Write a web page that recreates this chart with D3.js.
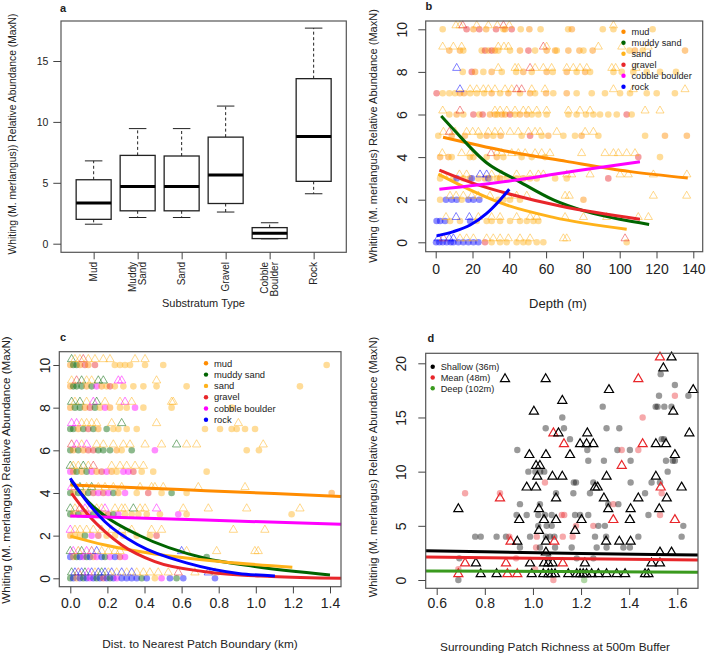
<!DOCTYPE html>
<html>
<head>
<meta charset="utf-8">
<script src="https://cdn.jsdelivr.net/npm/d3@7"></script>
<style>
  body { margin: 0; background: #fff; }
  svg text { font-family: Arial, 'Liberation Sans', Helvetica, sans-serif; fill: #222; }
</style>
</head>
<body>
<svg width="709" height="655"></svg>
<script>
const svg = d3.select('svg')

// ---------- data: panel a (boxplot) ----------
const substrata = ['Mud', 'Muddy Sand', 'Sand', 'Gravel', 'Cobble Boulder', 'Rock']
const boxLow = [1.6, 2.15, 2.15, 2.6, 0.4, 4.1]
const boxQ1 = [2.0, 2.7, 2.7, 3.3, 0.42, 5.12]
const boxMedian = [3.35, 4.7, 4.7, 5.65, 0.85, 8.8]
const boxQ3 = [5.25, 7.25, 7.2, 8.75, 1.32, 13.55]
const boxHigh = [6.8, 9.45, 9.45, 11.3, 1.72, 17.7]
const aTicks = [0, 5, 10, 15]

// ---------- data: shared substrate legend ----------
// category index: 0 mud, 1 muddy sand, 2 sand, 3 gravel, 4 cobble boulder, 5 rock
const substrateLabels = ['mud', 'muddy sand', 'sand', 'gravel', 'cobble boulder', 'rock']
const substrateColors = ['#FF8C00', '#006400', '#FFB21A', '#E8262A', '#FF00FF', '#0000FF']

// ---------- data: panel b (depth) ----------
const depthTicks = [0, 20, 40, 60, 80, 100, 120, 140]
const maxnTicks = [0, 2, 4, 6, 8, 10]
// [depth, MaxN, category]
const depthDots = [
  [3.8,10,2],[16.8,10,3],[20.5,10,0],[23.7,10,3],[27.4,10,0],[32.8,10,3],[36.8,10,2],[37.7,10,0],[41.3,10,3],[46.2,10,2],[50.9,10,0],[57,10,2],[72,10,2],[74,10,0],[90.8,10,2],[96.6,10,2],[117.9,10,2],
  [7.4,9,0],[13.2,9,0],[15,9,2],[25,9,2],[26.8,9,3],[28.6,9,2],[30.4,9,3],[32.2,9,0],[34,9,2],[40.4,9,2],[45.8,9,0],[50.4,9,3],[54,9,2],[60.3,9,0],[64.9,9,0],[65.8,9,2],[72.1,9,0],[78.1,9,0],[80.3,9,2],[85.3,9,0],[105.3,9,2],[108.3,9,0],[112.5,9,2],[135.5,9,0],
  [14.7,8,2],[19.6,8,3],[21.4,8,0],[25.9,8,2],[30.4,8,0],[35.9,8,2],[43.7,8,2],[47.6,8,0],[52.2,8,2],[60.3,8,0],[63.6,8,2],[71.2,8,0],[76.6,8,2],[81.2,8,0],[83.9,8,2],[96.6,8,2],[101.1,8,2],[107.4,8,2],[114.7,8,2],[121.9,8,2],[130.6,8,2],
  [0.5,7,3],[3.8,7,2],[7.4,7,2],[10.5,7,2],[13.2,7,0],[15.4,7,0],[18.7,7,2],[22.3,7,2],[26.3,7,2],[30.4,7,0],[35,7,2],[39.5,7,0],[45.8,7,2],[51.3,7,0],[54,7,2],[60,7,0],[63.9,7,2],[71.2,7,0],[76.6,7,2],[84.8,7,2],[92,7,2],[100.2,7,2],[105.6,7,2],[114.7,7,2],[120.1,7,2],[130,7,2],
  [7.4,6,2],[11.4,6,0],[15,6,2],[20.5,6,3],[23.7,6,2],[25.5,6,3],[29.5,6,0],[32.2,6,0],[33.5,6,2],[35.9,6,0],[37.7,6,0],[40.4,6,3],[43.1,6,2],[45.8,6,0],[49.5,6,0],[52.2,6,2],[55.8,6,2],[60.3,6,2],[72.1,6,2],[76.6,6,2],[81.7,6,2],[85.7,6,2],[89.3,6,2],[93.8,6,2],[98.4,6,2],[103.8,6,3],[106.5,6,2],
  [1.4,5,2],[8.7,5,0],[15.9,5,0],[24.1,5,2],[27.7,5,0],[31.3,5,2],[35.3,5,0],[46.7,5,2],[51.3,5,3],[57.6,5,2],[61.2,5,0],[69.4,5,2],[75.7,5,2],[79.3,5,0],[88.4,5,2],[113.8,5,2],[124.6,5,0],[136.5,5,0],
  [2.4,4,0],[6.9,4,0],[8.7,4,2],[18.6,4,2],[20.5,4,2],[27.7,4,2],[33.2,4,0],[36.8,4,2],[46.7,4,2],[52.2,4,2],[59.4,4,2],[110.1,4,3],[121.9,4,2],
  [2.4,3,2],[9.6,3,2],[11.4,3,5],[15,3,2],[18.7,3,0],[19.6,3,5],[23.2,3,2],[26.8,3,0],[28.6,3,5],[29.5,3,2],[33.2,3,2],[35,3,0],[38.6,3,2],[44,3,2],[47.6,3,0],[51.3,3,2],[54.9,3,2],[64.9,3,2],[71.2,3,2],[93.8,3,3],
  [2.4,2,2],[5.6,2,5],[8.7,2,5],[11.4,2,5],[14.1,2,2],[17.8,2,5],[20.5,2,5],[23.7,2,5],[34,2,2],[36.8,2,2],[40.4,2,2],[45.8,2,2],[80.3,2,0],
  [0.5,1,5],[2.4,1,5],[5.1,1,5],[7.8,1,2],[13.2,1,2],[18.7,1,5],[22.3,1,2],[27.7,1,2],[30.4,1,2],[35,1,2],[40.4,1,2],[45.8,1,2],[49.5,1,2],[53.1,1,2],[55.8,1,2],
  [0.2,0,5],[2,0,5],[3.8,0,5],[6,0,5],[8.2,0,5],[9.6,0,5],[12.3,0,5],[15,0,5],[17.8,0,5],[20.5,0,5],[23.2,0,5],[26.8,0,3],[30.4,0,2],[35,0,2],[38.6,0,2],[44,0,2],[47.6,0,2],[50.4,0,2],[54.9,0,2],[58.5,0,2],[103.8,0,2]
]
const depthTris = [
  [11,10,2],[13.2,10,2],[14.7,10,3],[22.3,10,2],[28.6,10,2],[33.5,10,2],[36.8,10,3],[40,10,2],[96.6,10,2],
  [3.8,9,2],[9.6,9,2],[14.1,9,2],[34,9,2],[37.1,9,2],[39.5,9,2],[58.5,9,3],[60.3,9,2],[88.4,9,2],[101.1,9,2],[115.5,9,2],
  [11.4,8,5],[34,8,2],[43.1,8,2],[44.9,8,2],[51.3,8,3],[54,8,2],[58.5,8,2],[63,8,2],[71.2,8,2],[74.8,8,2],[78.4,8,2],[82.1,8,2],[95.7,8,2],[97.8,8,2],[108.9,8,2],
  [13.2,7,5],[18.7,7,2],[22.3,7,2],[25.9,7,2],[28.6,7,2],[32.2,7,2],[37.7,7,2],[41.3,7,2],[44,7,3],[46.7,7,3],[52.2,7,2],[59.4,7,2],[96.6,7,2],[107.4,7,2],[135.5,7,2],
  [3.8,6,2],[13.2,6,3],[32.2,6,2],[35,6,2],[38.6,6,2],[43.1,6,2],[47.6,6,2],[50.4,6,2],[54.9,6,2],[60.3,6,2],[72.1,6,2],[78.4,6,2],[83.9,6,2],[113.8,6,2],[121.9,6,2],
  [4.2,5,2],[7.4,5,3],[10.5,5,2],[16.8,5,2],[20.1,5,2],[23.2,5,2],[28.6,5,2],[32.2,5,2],[35.3,5,2],[40.4,5,2],[44.9,5,2],[50.4,5,2],[54,5,2],[56.7,5,2],[65.8,5,2],[81.2,5,2],[85.7,5,2],
  [3.6,4,2],[14.1,4,2],[18.7,4,2],[30.1,4,3],[33.2,4,2],[35.9,4,2],[41.3,4,2],[44.9,4,2],[48.6,4,2],[54,4,2],[57.6,4,2],[62.1,4,2],[79.3,4,2],[92,4,2],[96.6,4,2],[99.3,4,2],[103.8,4,2],[108.3,4,2],
  [4.2,3,2],[12.9,3,2],[16.8,3,2],[24.1,3,5],[27.7,3,5],[30.4,3,2],[35.9,3,2],[44,3,2],[51.3,3,2],[55.8,3,2],[58.5,3,2],[71.2,3,2],[73.9,3,2],[83.9,3,2],[100.2,3,2],[104.7,3,2],[118.3,3,2],[136.5,3,2],
  [7.8,2,2],[11.1,2,2],[15,2,2],[19.6,2,2],[23.2,2,2],[29.5,2,2],[39.5,2,2],[44,2,2],[49.5,2,2],[70.3,2,2],[72.6,2,2],[118.3,2,2],[136.4,2,2],
  [5.6,1,2],[11.1,1,5],[18.3,1,5],[23.2,1,2],[30.4,1,2],[35,1,2],[44,1,2],[51.3,1,2],[54.9,1,2],[70.3,1,2],[80.3,1,2],[92.9,1,2],[110.1,1,2],[115.6,1,2],
  [1.4,0,5],[4.2,0,3],[7.4,0,5],[9.6,0,5],[13.2,0,2],[16.8,0,2],[20.5,0,2],[27.7,0,2],[31.3,0,2],[35,0,2],[39.5,0,2],[45.8,0,2],[51.3,0,2],[69.4,0,2],[71.2,0,2],[102.9,0,3]
]
// fitted curves, one per substrate, [depth, MaxN]
const depthFits = [
  [[4,4.93],[37,4.3],[71,3.8],[105,3.33],[137,3.02]],
  [[3,5.93],[10,5.27],[28,3.71],[44,2.92],[64,1.99],[82,1.44],[100,1.08],[116,0.84]],
  [[1.4,3.2],[18.7,2.46],[36.8,1.8],[64,1.17],[103.8,0.61]],
  [[2,3.39],[20.5,2.77],[42.2,2.22],[67.6,1.7],[111,1.08]],
  [[2,2.49],[44,2.92],[76.6,3.36],[111,3.78]],
  [[0.5,0.3],[9.6,0.5],[18.7,0.81],[27.7,1.36],[35,1.99],[40,2.49]]
]

// ---------- data: panel c (distance to boundary) ----------
const distTicks = [0, 0.2, 0.4, 0.6, 0.8, 1.0, 1.2, 1.4]
const distDots = [
  [0,10,0],[0.016,10,1],[0.034,10,1],[0.052,10,0],[0.079,10,3],[0.097,10,0],[0.133,10,3],[0.24,10,2],[0.268,10,2],[0.295,10,2],[0.322,10,2],[0.403,10,2],[0.501,10,2],[1.382,10,2],
  [0,9,0],[0.016,9,1],[0.034,9,1],[0.061,9,1],[0.088,9,0],[0.115,9,1],[0.142,9,4],[0.169,9,0],[0.196,9,2],[0.214,9,3],[0.24,9,2],[0.286,9,2],[0.34,9,2],[0.394,9,2],[0.465,9,2],[0.627,9,2],[1.238,9,2],
  [0,8,0],[0.025,8,1],[0.052,8,1],[0.079,8,0],[0.106,8,3],[0.133,8,1],[0.16,8,2],[0.187,8,4],[0.214,8,0],[0.268,8,2],[0.304,8,2],[0.349,8,4],[0.394,8,2],[0.546,8,2],[0.87,8,2],
  [0,7,1],[0.016,7,1],[0.043,7,0],[0.07,7,1],[0.097,7,3],[0.124,7,1],[0.151,7,0],[0.196,7,1],[0.232,7,2],[0.259,7,2],[0.304,7,2],[0.358,7,2],[0.726,7,2],[0.807,7,2],[0.87,7,2],[0.897,7,2],[0.942,7,2],[0.996,7,2],
  [0,6,1],[0.016,6,0],[0.043,6,1],[0.07,6,0],[0.097,6,3],[0.124,6,3],[0.151,6,1],[0.178,6,1],[0.214,6,1],[0.25,6,0],[0.277,6,2],[0.331,6,1],[0.456,6,4],[0.951,6,2],[1.017,6,2],
  [0,5,4],[0.016,5,0],[0.034,5,1],[0.061,5,0],[0.088,5,1],[0.115,5,4],[0.142,5,0],[0.169,5,3],[0.196,5,4],[0.223,5,0],[0.25,5,2],[0.286,5,4],[0.313,5,4],[0.34,5,3],[0.385,5,2],[0.447,5,2],[0.735,5,2],
  [0,4,1],[0.016,4,0],[0.043,4,1],[0.07,4,0],[0.097,4,1],[0.124,4,3],[0.151,4,4],[0.178,4,3],[0.205,4,4],[0.232,4,1],[0.259,4,0],[0.295,4,4],[0.358,4,2],[0.42,4,3],[0.492,4,2],[0.546,4,1],[0.627,4,2],[1.409,4,0],
  [0,3,1],[0.016,3,0],[0.043,3,1],[0.07,3,0],[0.097,3,4],[0.124,3,1],[0.151,3,0],[0.178,3,2],[0.205,3,3],[0.232,3,1],[0.259,3,4],[0.295,3,2],[0.331,3,2],[0.367,3,2],[0.412,3,2],[0.483,3,2],[0.582,3,4],[0.627,3,2],[1.193,3,2],
  [0,2,0],[0.025,2,2],[0.052,2,2],[0.079,2,1],[0.115,2,4],[0.151,2,3],[0.196,2,2],[0.241,2,2],[0.286,2,2],[0.358,2,2],[0.429,2,2],[0.465,2,3],
  [0,1,5],[0.016,1,0],[0.034,1,1],[0.052,1,5],[0.07,1,4],[0.088,1,1],[0.106,1,5],[0.124,1,0],[0.142,1,4],[0.169,1,5],[0.187,1,1],[0.214,1,4],[0.241,1,5],[0.268,1,3],[0.295,1,4],[0.735,1,1],
  [0,0,1],[0.016,0,5],[0.034,0,0],[0.052,0,5],[0.07,0,1],[0.088,0,5],[0.106,0,4],[0.124,0,5],[0.142,0,1],[0.16,0,5],[0.178,0,3],[0.196,0,5],[0.214,0,1],[0.232,0,5],[0.25,0,4],[0.277,0,5],[0.304,0,5],[0.331,0,5],[0.358,0,5],[0.385,0,1],[0.412,0,5],[0.456,0,2],[0.492,0,4],[0.537,0,5],[0.573,0,1],[0.609,0,5],[0.78,0,5]
]
const distTris = [
  [0.007,10,1],[0.025,10,2],[0.052,10,2],[0.07,10,3],[0.097,10,2],[0.133,10,2],[0.178,10,2],[0.214,10,2],[0.349,10,2],[0.403,10,2],
  [0.007,9,2],[0.034,9,3],[0.061,9,1],[0.088,9,2],[0.115,9,2],[0.151,9,1],[0.178,9,1],[0.259,9,4],[0.277,9,4],[0.465,9,2],
  [0.007,8,1],[0.025,8,2],[0.052,8,1],[0.088,8,2],[0.124,8,4],[0.142,8,1],[0.187,8,2],[0.268,8,2],[0.295,8,4],[0.331,8,2],[0.546,8,2],[0.555,8,2],
  [0.007,7,4],[0.034,7,4],[0.061,7,2],[0.088,7,2],[0.115,7,2],[0.142,7,2],[0.223,7,2],[0.277,7,1],[0.465,7,2],[0.906,7,2],
  [0.007,6,3],[0.034,6,4],[0.061,6,2],[0.088,6,4],[0.142,6,2],[0.178,6,2],[0.232,6,2],[0.286,6,2],[0.322,6,2],[0.403,6,2],[0.492,6,2],[0.573,6,1],[0.627,6,2],[0.681,6,2],[1.04,6,2],
  [0,5,1],[0.016,5,2],[0.043,5,2],[0.07,5,1],[0.097,5,2],[0.124,5,3],[0.223,5,2],[0.268,5,2],[0.304,5,2],[0.349,5,2],[0.394,5,2],
  [0.007,4,4],[0.025,4,2],[0.052,4,1],[0.088,4,2],[0.115,4,1],[0.151,4,2],[0.187,4,2],[0.232,4,2],[0.277,4,2],[0.376,4,2],[0.438,4,2],[0.456,4,2],[0.501,4,2],[0.69,4,2],[0.942,4,2],
  [0,3,1],[0.025,3,2],[0.052,3,3],[0.079,3,4],[0.106,3,2],[0.142,3,2],[0.169,3,2],[0.187,3,4],[0.241,3,2],[0.277,3,2],[0.295,3,2],[0.34,3,1],[0.376,3,2],[0.403,3,2],[0.465,3,4],[0.609,3,2],[0.744,3,2],[0.951,3,2],[1.238,3,2],
  [0,2,4],[0.025,2,2],[0.052,2,2],[0.088,2,2],[0.124,2,2],[0.169,2,2],[0.223,2,2],[0.277,2,2],[0.331,2,2],[0.438,2,2],[0.492,2,2],[0.879,2,2],[1.049,2,2],
  [0,1,1],[0.016,1,4],[0.043,1,0],[0.061,1,1],[0.088,1,4],[0.115,1,3],[0.142,1,5],[0.169,1,2],[0.205,1,2],[0.241,1,2],[0.268,1,2],[0.6,1,5],[0.627,1,2],[0.789,1,2],[0.995,1,2],[1.013,1,2],
  [0.007,0,1],[0.025,0,5],[0.043,0,3],[0.061,0,5],[0.079,0,1],[0.097,0,4],[0.115,0,5],[0.133,0,2],[0.151,0,5],[0.169,0,1],[0.187,0,5],[0.205,0,2],[0.223,0,5],[0.25,0,2],[0.277,0,5],[0.304,0,2],[0.331,0,5],[0.358,0,2],[0.394,0,2],[0.429,0,2],[0.474,0,2],[0.528,0,2],[0.582,0,3],[0.672,0,2],[0.744,0,5],[0.78,0,2]
]
const distFits = [
  [[0,4.37],[0.36,4.25],[0.73,4.11],[1.1,3.97],[1.46,3.83]],
  [[0.004,4.58],[0.097,3.59],[0.187,2.92],[0.367,2.03],[0.726,0.94],[0.995,0.55],[1.4,0.155]],
  [[0,1.98],[0.187,1.56],[0.456,1.14],[0.816,0.78],[1.197,0.52]],
  [[0.007,3.98],[0.097,2.97],[0.187,2.19],[0.277,1.56],[0.456,0.78],[0.726,0.31],[1.085,0.08],[1.46,0]],
  [[0,2.92],[0.726,2.73],[1.46,2.53]],
  [[0,4.69],[0.097,3.52],[0.187,2.65],[0.367,1.56],[0.636,0.7],[0.906,0.23],[1.103,0.11]]
]

// ---------- data: panel d (patch richness) ----------
const richTicks = [0.6, 0.8, 1.0, 1.2, 1.4, 1.6]
const richYTicks = [0, 5, 10, 15, 20]
const depthGroups = ['Shallow (36m)', 'Mean (48m)', 'Deep (102m)']
const depthGroupColors = ['#000000', '#E8262A', '#3A9A1E']
// [richness, MaxN, group]
const richDots = [
  [1.531,19,0],[1.59,18,0],[1.524,17,0],[1.59,17,1],[1.646,17,0],[1.29,16,0],[1.51,16,0],[1.518,16,0],[1.546,16,0],[1.576,16,0],
  [1.456,15,1],[1.122,15,0],[1.053,14,0],[1.129,14,0],[1.306,14,0],[1.359,14,0],[1.154,13,0],[1.535,13,0],[1.545,13,0],
  [0.935,12,0],[1.226,12,0],[1.351,12,0],[1.369,12,1],[1.403,12,0],[1.438,12,1],
  [1.23,11,0],[1.295,11,0],[1.406,11,0],[1.553,11,0],[1.581,11,0],[1.59,11,0],
  [0.981,10,0],[1.01,10,0],[1.03,10,0],[1.047,10,0],[1.56,10,0],
  [1.05,9,1],[1.17,9,0],[1.179,9,0],[1.251,9,0],[1.406,9,0],[1.493,9,0],[1.528,9,0],
  [0.718,8,1],[0.863,8,1],[1.096,8,0],[1.168,8,0],[1.237,8,0],[1.466,8,0],[1.535,8,1],
  [0.946,7,0],[1.029,7,0],[1.313,7,0],[1.334,7,1],[1.355,7,0],
  [0.932,6,0],[0.974,6,0],[1.022,6,0],[1.05,6,0],[1.078,6,0],[1.12,6,1],[1.13,6,1],[1.175,6,0],[1.196,6,0],[1.23,6,0],[1.48,6,0],[1.528,6,1],
  [1.022,5,0],[1.057,5,0],[1.078,5,0],[1.179,5,1],[1.251,5,1],[1.272,5,0],[1.299,5,0],[1.625,5,0],
  [0.76,4,0],[0.783,4,0],[0.849,4,0],[0.888,4,0],[0.902,4,1],[0.988,4,0],[1.016,4,1],[1.054,4,0],[1.071,4,0],[1.089,4,0],[1.124,4,1],[1.165,4,1],[1.258,4,0],[1.304,4,0],[1.438,4,0],[1.618,4,0],
  [0.946,3,0],[1.013,3,1],[1.029,3,0],[1.092,3,0],[1.161,3,0],[1.265,3,0],[1.306,3,0],[1.376,3,0],[1.403,3,0],
  [0.694,2,0],[0.93,2,1],[1.064,2,0],[1.182,2,0],[1.251,2,0],
  [0.69,1,1],[1.009,1,1],
  [0.69,0,0],[1.085,0,1],[1.213,0,2]
]
const richTris = [
  [1.528,20,1],[1.576,20,0],[1.542,19,0],[0.884,18,0],[1.053,18,0],[1.438,18,1],[1.316,17,0],[1.666,17,0],[1.122,16,0],[1.004,15,0],[1.583,15,0],
  [1.085,13,1],[1.106,13,0],[1.226,13,0],[1.65,13,0],[1.129,12,1],[1.196,12,0],[1.223,12,0],[1.251,12,0],[1.456,12,1],[1.511,12,0],[1.553,12,0],
  [0.985,11,0],[1.054,11,0],[1.154,11,0],[1.59,11,0],[1.013,10,0],[1.029,10,0],[1.369,10,1],
  [1.018,9,0],[1.081,9,0],[1.122,9,0],[1.306,9,0],[1.511,9,0],
  [0.974,8,0],[1.013,8,0],[1.258,8,0],[1.269,8,0],[1.531,8,1],[1.618,8,0],
  [0.863,7,1],[1.096,7,0],[1.295,7,0],[1.438,7,0],[1.556,7,0],
  [0.69,6,0],[1.025,6,0],[1.313,6,0],[1.406,6,0],[1.525,6,0],
  [0.943,5,0],[1.046,5,0],[1.096,5,0],[1.202,5,0],[1.334,5,1],[1.403,5,0],[1.59,5,1],
  [1.025,4,0],[1.175,4,0],
  [0.907,3,1],[0.935,3,0],[1.054,3,0],[1.089,3,1],[1.304,3,0],[1.359,3,0],[1.406,3,0],
  [1.054,2,0],[1.528,2,0],[1.576,2,0],
  [0.718,1,1],[0.763,1,0],[0.888,1,1],[0.988,1,0],[1.046,1,0],[1.064,1,0],[1.082,1,0],[1.124,1,1],[1.216,1,0],[1.493,1,0],[1.528,1,0],
  [0.69,0,1],[0.783,0,0],[0.849,0,0],[0.894,0,1],[0.935,0,1],[0.995,0,0],[1.043,0,0],[1.064,0,0],[1.078,0,0],[1.092,0,0],[1.147,0,0],[1.182,0,0],[1.196,0,0],[1.209,0,0],[1.223,0,0],[1.244,0,0],[1.272,0,0],[1.306,0,0],[1.348,0,0],[1.383,0,0],[1.466,0,0],[1.48,0,0]
]
const richFits = [
  [[0.554,2.69],[0.8,2.6],[1.2,2.45],[1.5,2.35],[1.686,2.31]],
  [[0.554,2.12],[0.9,2.03],[1.3,1.93],[1.686,1.85]],
  [[0.554,0.84],[1.1,0.78],[1.686,0.71]]
]

// ---------- helpers ----------
const label = (g, x, y, str, size, opts = {}) => g.append('text')
  .attr('transform', `translate(${x},${y})` + (opts.rotate ? ' rotate(-90)' : ''))
  .attr('text-anchor', opts.anchor || 'middle')
  .attr('dy', opts.dy || null)
  .style('font-size', size + 'px')
  .style('font-weight', opts.bold ? 'bold' : null)
  .text(str)

const frame = (g, [x0, y0, x1, y1]) => g.append('rect')
  .attr('x', x0).attr('y', y0).attr('width', x1 - x0).attr('height', y1 - y0)
  .attr('fill', 'none').attr('stroke', '#555').attr('stroke-width', 1.2)

function xAxis(g, scale, yPos, ticks, fmt, o) {
  const ax = g.append('g').attr('transform', `translate(0,${yPos})`)
    .call(d3.axisBottom(scale).tickValues(ticks).tickFormat(fmt).tickSize(o.size).tickPadding(o.pad))
  ax.select('.domain').remove()
  ax.selectAll('.tick line').attr('stroke', '#444')
  ax.selectAll('.tick text').style('font-size', o.font + 'px')
  return ax
}

function yAxis(g, scale, xPos, ticks, o) {
  const ax = g.append('g').attr('transform', `translate(${xPos},0)`)
    .call(d3.axisLeft(scale).tickValues(ticks).tickSize(o.size).tickPadding(o.pad || 3))
  ax.select('.domain').remove()
  ax.selectAll('.tick line').attr('stroke', '#444')
  const t = ax.selectAll('.tick text').style('font-size', o.font + 'px')
  if (o.k) {
    t.attr('x', 0).attr('dy', null).attr('text-anchor', 'middle')
      .attr('transform', `translate(${-o.k},0) rotate(-90)`)
  }
  return ax
}

function scatter(g, x, y, dots, tris, o) {
  g.append('g').selectAll('circle').data(dots).join('circle')
    .attr('cx', d => x(d[0])).attr('cy', d => y(d[1]))
    .attr('r', o.r)
    .attr('fill', d => o.colors[d[2]])
    .attr('fill-opacity', o.dotAlpha)
  g.append('g').selectAll('path').data(tris).join('path')
    .attr('d', d3.symbol().type(d3.symbolTriangle).size(o.triSize))
    .attr('transform', d => `translate(${x(d[0])},${y(d[1] + o.lift)})`)
    .attr('fill', 'none')
    .attr('stroke', d => o.colors[d[2]])
    .attr('stroke-opacity', o.triAlpha)
    .attr('stroke-width', o.triWidth)
}

function fits(g, x, y, curves, colors, curve) {
  const line = d3.line().x(d => x(d[0])).y(d => y(d[1])).curve(curve)
  g.append('g').selectAll('path').data(curves).join('path')
    .attr('d', line)
    .attr('fill', 'none')
    .attr('stroke', (d, i) => colors[i])
    .attr('stroke-width', 3)
}

function legend(g, x, y0, step, labels, colors, size) {
  labels.forEach((s, i) => {
    g.append('circle').attr('cx', x).attr('cy', y0 + i * step).attr('r', 2.2).attr('fill', colors[i])
    label(g, x + 8, y0 + i * step, s, size, { anchor: 'start', dy: '0.35em' })
  })
}

// ---------- panel a ----------
const ga = svg.append('g')
const aBox = [61, 21, 346.3, 252.3]
const aX = d3.scalePoint().domain(substrata).range([aBox[0], aBox[2]]).padding(0.742)
const aY = d3.scaleLinear().domain([0, 15]).range([243.7, 61])
const halfW = 17.5

substrata.forEach((s, i) => {
  const cx = aX(s)
  const bg = ga.append('g').attr('stroke', '#222').attr('fill', 'none')
  bg.append('line').attr('x1', cx).attr('x2', cx).attr('y1', aY(boxQ3[i])).attr('y2', aY(boxHigh[i]))
    .attr('stroke-dasharray', '3,2.5')
  bg.append('line').attr('x1', cx).attr('x2', cx).attr('y1', aY(boxQ1[i])).attr('y2', aY(boxLow[i]))
    .attr('stroke-dasharray', '3,2.5')
  ;[boxHigh[i], boxLow[i]].forEach(v => bg.append('line')
    .attr('x1', cx - halfW / 2).attr('x2', cx + halfW / 2).attr('y1', aY(v)).attr('y2', aY(v)))
  bg.append('rect').attr('x', cx - halfW).attr('width', 2 * halfW)
    .attr('y', aY(boxQ3[i])).attr('height', aY(boxQ1[i]) - aY(boxQ3[i]))
    .attr('fill', '#fff').attr('stroke-width', 1.3)
  bg.append('line').attr('x1', cx - halfW).attr('x2', cx + halfW)
    .attr('y1', aY(boxMedian[i])).attr('y2', aY(boxMedian[i])).attr('stroke-width', 3).attr('stroke', '#000')
})
frame(ga, aBox)
yAxis(ga, aY, aBox[0], aTicks, { size: 7.7, pad: 5, font: 10.5 })
xAxis(ga, aX, aBox[3], substrata, () => '', { size: 7, pad: 0, font: 10 })
substrata.forEach(s => {
  const parts = s.split(' ')
  const t = ga.append('text')
    .attr('transform', `translate(${aX(s)},262) rotate(-90)`)
    .attr('text-anchor', 'end')
    .style('font-size', '10px')
  parts.forEach((p, j) => t.append('tspan').attr('x', 0)
    .attr('y', (j - (parts.length - 1) / 2) * 10).attr('dy', '0.35em').text(p))
})
label(ga, 203.5, 307, 'Substratum Type', 11)
label(ga, 12, 134, 'Whiting (M. merlangus)) Relative Abundance (MaxN)', 10.3, { rotate: true, dy: '0.35em' })
label(ga, 60, 12, 'a', 11, { anchor: 'start', bold: true })

// ---------- panel b ----------
const gb = svg.append('g')
const bBox = [425.7, 21, 702.7, 251.7]
const bX = d3.scaleLinear().domain([0, 140]).range([435.7, 693.3])
const bY = d3.scaleLinear().domain([0, 10]).range([242.3, 29.3])
scatter(gb, bX, bY, depthDots, depthTris,
  { r: 3.3, colors: substrateColors, dotAlpha: 0.45, triSize: 28, lift: 0.18, triAlpha: 0.5, triWidth: 1 })
fits(gb, bX, bY, depthFits, substrateColors, d3.curveMonotoneX)
frame(gb, bBox)
xAxis(gb, bX, bBox[3], depthTicks, d3.format('d'), { size: 6.7, pad: 5.5, font: 14 })
yAxis(gb, bY, bBox[0], maxnTicks, { size: 7.4, k: 19, font: 14 })
legend(gb, 623.5, 31.7, 11, substrateLabels, substrateColors, 9.2)
label(gb, 558, 308, 'Depth (m)', 13)
label(gb, 373, 136, 'Whiting (M. merlangus) Relative Abundance (MaxN)', 11, { rotate: true, dy: '0.35em' })
label(gb, 425.5, 10, 'b', 11, { anchor: 'start', bold: true })

// ---------- panel c ----------
const gc = svg.append('g')
const cBox = [59.3, 351.7, 341, 586.7]
const cX = d3.scaleLinear().domain([0, 1.4]).range([70.3, 330])
const cY = d3.scaleLinear().domain([0, 10]).range([578.3, 365])
scatter(gc, cX, cY, distDots, distTris,
  { r: 3.3, colors: substrateColors, dotAlpha: 0.45, triSize: 30, lift: 0.27, triAlpha: 0.5, triWidth: 1 })
fits(gc, cX, cY, distFits, substrateColors, d3.curveMonotoneX)
frame(gc, cBox)
xAxis(gc, cX, cBox[3], distTicks, d3.format('.1f'), { size: 6.7, pad: 4.5, font: 14 })
yAxis(gc, cY, cBox[0], maxnTicks, { size: 6, k: 9.3, font: 14 })
legend(gc, 206, 363.3, 11.3, substrateLabels, substrateColors, 9.4)
label(gc, 200, 648, 'Dist. to Nearest Patch Boundary (km)', 11.8)
label(gc, 6, 470, 'Whiting (M. merlangus) Relative Abundance (MaxN)', 11.6, { rotate: true, dy: '0.35em' })
label(gc, 60, 341, 'c', 11, { anchor: 'start', bold: true })

// ---------- panel d ----------
const gd = svg.append('g')
const dBox = [425.7, 353.3, 698, 588.3]
const dX = d3.scaleLinear().domain([0.6, 1.6]).range([436.7, 677.3])
const dY = d3.scaleLinear().domain([0, 20]).range([580, 363.3])
scatter(gd, dX, dY, richDots, richTris,
  { r: 3.2, colors: depthGroupColors, dotAlpha: 0.4, triSize: 36, lift: 0.55, triAlpha: 1, triWidth: 1.2 })
fits(gd, dX, dY, richFits, depthGroupColors, d3.curveLinear)
frame(gd, dBox)
xAxis(gd, dX, dBox[3], richTicks, d3.format('.1f'), { size: 6.7, pad: 3, font: 14 })
yAxis(gd, dY, dBox[0], richYTicks, { size: 7.4, k: 19.7, font: 14 })
legend(gd, 432.7, 366.7, 10.8, depthGroups, depthGroupColors, 9.2)
label(gd, 555, 651, 'Surrounding Patch Richness at 500m Buffer', 11.8)
label(gd, 373, 467, 'Whitinig (M. merlangus) Relative Abundance (MaxN)', 11.2, { rotate: true, dy: '0.35em' })
label(gd, 427.5, 342, 'd', 11, { anchor: 'start', bold: true })
</script>
</body>
</html>
